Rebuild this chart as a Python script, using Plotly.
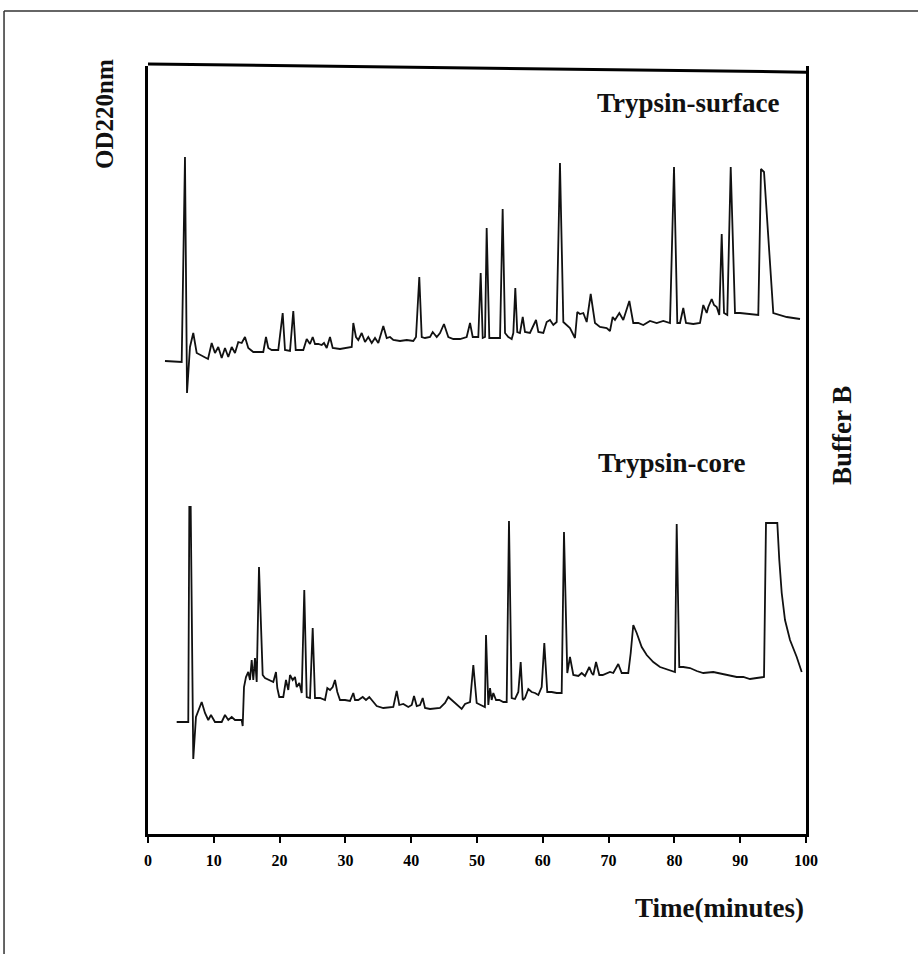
import plotly.graph_objects as go

# Retention time (minutes) and OD220nm (arbitrary units, traces offset on one scale)
surface_time = [
    2.58, 5.12, 5.62, 5.93, 6.38, 6.88, 7.40, 9.12, 9.68, 10.18,
    10.68, 11.2, 11.7, 12.2, 12.72, 13.22, 13.72, 14.24, 14.74, 15.24,
    16.0, 17.52, 17.93, 18.28, 18.8, 19.8, 20.47, 20.82, 21.58, 22.08,
    22.45, 23.6, 24.12, 24.62, 25.03, 25.38, 25.88, 26.4, 26.75, 27.16,
    27.66, 28.07, 29.18, 30.2, 30.96, 31.2, 31.61, 31.96, 32.48, 32.98,
    33.48, 34.0, 34.5, 35.0, 35.76, 36.28, 36.78, 37.28, 38.3, 39.32,
    40.32, 40.73, 41.23, 41.6, 42.1, 42.86, 43.27, 43.88, 44.38, 44.98,
    45.64, 46.4, 47.42, 48.43, 48.94, 49.35, 50.2, 50.56, 50.87, 51.22,
    51.47, 51.87, 52.48, 53.5, 53.9, 54.26, 54.76, 55.27, 55.52, 55.82,
    56.12, 56.53, 56.95, 57.29, 58.05, 58.97, 59.32, 60.08, 60.59, 61.09,
    61.6, 62.11, 62.61, 63.12, 64.13, 64.89, 65.24, 65.65, 66.16, 66.67,
    67.28, 67.93, 68.69, 69.71, 70.21, 70.62, 70.97, 71.63, 72.23, 73.15,
    73.75, 74.51, 75.27, 76.29, 77.31, 78.31, 79.33, 79.94, 80.44, 80.85,
    81.35, 81.76, 82.87, 83.89, 84.39, 84.91, 85.15, 85.67, 86.02, 86.43,
    86.82, 87.19, 87.54, 88.04, 88.56, 89.21, 89.97, 90.99, 91.99, 92.75,
    93.16, 93.62, 95.03, 96.05, 97.07, 98.07, 99.09,
]
surface_od = [
    473, 472, 677, 441, 487, 501, 481, 475, 491, 481,
    487, 476, 486, 477, 487, 481, 492, 491, 497, 486,
    482, 482, 497, 486, 484, 484, 521, 484, 483, 523,
    484, 484, 495, 490, 497, 490, 490, 489, 491, 486,
    497, 486, 485, 486, 487, 511, 497, 494, 501, 492,
    497, 491, 496, 491, 508, 496, 497, 494, 493, 494,
    493, 497, 557, 497, 496, 497, 502, 497, 501, 510,
    497, 495, 495, 497, 511, 497, 497, 561, 496, 497,
    606, 496, 496, 496, 625, 501, 497, 495, 501, 546,
    502, 501, 517, 502, 501, 514, 502, 501, 512, 514,
    509, 512, 671, 512, 506, 496, 522, 520, 521, 512,
    540, 511, 507, 506, 503, 517, 514, 521, 514, 533,
    511, 511, 509, 513, 511, 513, 511, 667, 511, 511,
    526, 511, 510, 511, 529, 521, 527, 535, 529, 527,
    519, 600, 521, 519, 667, 521, 521, 520, 519, 519,
    665, 662, 521, 519, 517, 516, 515,
]

core_time = [
    4.36, 6.12, 6.28, 6.49, 6.88, 7.29, 8.16, 8.66, 9.16, 9.57,
    10.18, 11.2, 11.7, 12.2, 12.72, 13.22, 14.24, 14.39, 14.59, 14.89,
    15.24, 15.5, 15.76, 16.0, 16.26, 16.52, 16.87, 17.43, 17.78, 18.54,
    19.04, 19.45, 19.65, 19.95, 20.56, 20.97, 21.32, 21.58, 21.99, 22.34,
    22.6, 23.0, 23.36, 23.75, 24.12, 24.62, 25.03, 25.38, 26.14, 26.9,
    27.25, 27.66, 28.07, 28.42, 28.77, 29.18, 29.94, 30.7, 31.2, 31.46,
    31.96, 32.63, 33.13, 33.63, 34.0, 34.76, 35.76, 37.28, 37.8, 38.19,
    38.8, 39.56, 40.08, 40.43, 40.84, 41.34, 41.75, 42.1, 42.86, 44.38,
    45.14, 45.64, 46.16, 46.91, 47.67, 48.18, 48.94, 49.44, 49.95, 50.56,
    51.2, 51.37, 51.72, 51.98, 52.23, 52.48, 52.89, 53.39, 54.0, 54.51,
    54.86, 55.27, 55.78, 56.28, 56.64, 56.95, 57.29, 57.8, 58.31, 58.81,
    59.32, 59.83, 60.23, 60.68, 61.35, 62.11, 62.87, 63.22, 63.72, 64.13,
    64.64, 65.4, 65.91, 66.41, 67.07, 67.43, 67.68, 68.09, 68.59, 69.1,
    70.21, 70.71, 71.47, 71.99, 72.99, 73.36, 73.75, 74.27, 75.03, 75.79,
    76.79, 77.81, 78.83, 79.83, 80.09, 80.35, 80.74, 81.35, 82.37, 83.39,
    84.39, 85.91, 87.43, 88.45, 89.47, 90.47, 91.49, 92.51, 93.27, 93.62,
    93.92, 95.64, 95.94, 96.31, 96.81, 97.57, 98.59, 99.35,
]
core_od = [
    112, 112, 327, 327, 75, 117, 132, 121, 114, 119,
    112, 112, 119, 114, 117, 114, 114, 108, 147, 157,
    162, 154, 174, 154, 176, 152, 267, 159, 156, 154,
    152, 162, 146, 137, 137, 154, 144, 159, 154, 157,
    147, 151, 141, 244, 137, 136, 206, 136, 136, 134,
    146, 144, 147, 154, 142, 134, 134, 133, 141, 134,
    134, 137, 134, 137, 134, 128, 126, 127, 143, 129,
    130, 127, 129, 138, 128, 129, 136, 126, 125, 126,
    131, 137, 134, 130, 125, 130, 132, 169, 131, 129,
    127, 199, 129, 146, 134, 141, 134, 134, 132, 132,
    313, 136, 135, 142, 172, 134, 136, 145, 142, 141,
    139, 147, 191, 142, 142, 141, 141, 302, 161, 177,
    159, 158, 161, 158, 167, 161, 159, 172, 159, 159,
    162, 161, 170, 161, 161, 181, 209, 201, 187, 179,
    172, 167, 165, 163, 162, 310, 167, 167, 166, 163,
    161, 162, 160, 159, 157, 157, 155, 156, 157, 157,
    311, 311, 274, 241, 214, 194, 177, 162,
]

x_ticks = [0, 10, 20, 30, 40, 50, 60, 70, 80, 90, 100]

SERIF = "Liberation Serif, Times New Roman, serif"
INK = "#111111"

fig = go.Figure()
fig.add_trace(go.Scatter(x=surface_time, y=surface_od, mode="lines",
                         line=dict(color=INK, width=1.8), name="Trypsin-surface",
                         showlegend=False))
fig.add_trace(go.Scatter(x=core_time, y=core_od, mode="lines",
                         line=dict(color=INK, width=1.8), name="Trypsin-core",
                         showlegend=False))


def label(text, x, y, size, angle=0):
    return dict(text="<b>" + text + "</b>", xref="paper", yref="paper",
                x=x, y=y, xanchor="center", yanchor="middle", showarrow=False,
                textangle=angle, font=dict(family=SERIF, size=size, color=INK))


fig.update_layout(
    width=918, height=954,
    margin=dict(l=148, r=112, t=66, b=120),
    paper_bgcolor="white", plot_bgcolor="white",
    xaxis=dict(range=[0, 100], tickvals=x_ticks,
               ticktext=["<b>" + str(v) + "</b>" for v in x_ticks],
               showgrid=False, zeroline=False, showline=True, mirror=False,
               linecolor="black", linewidth=3, ticks="outside", ticklen=6,
               tickwidth=2, tickcolor="black", ticklabelstandoff=4,
               tickfont=dict(family=SERIF, size=16, color="black")),
    yaxis=dict(range=[0, 768], showgrid=False, zeroline=False, showline=True,
               mirror=True, linecolor="black", linewidth=3, showticklabels=False,
               ticks=""),
    annotations=[
        label("Trypsin-surface", 0.8207, 0.952, 27),
        label("Trypsin-core", 0.796, 0.483, 27),
        label("OD220nm", -0.0669, 0.9375, 25, -90),
        label("Buffer B", 1.0547, 0.5195, 27, -90),
        label("Time(minutes)", 0.868, -0.0964, 27),
    ],
    shapes=[
        # slightly skewed top edge of the scanned frame
        dict(type="line", xref="paper", yref="paper", x0=0, x1=1,
             y0=1.0026, y1=0.992, line=dict(color="black", width=3)),
        # outer border of the scanned page
        dict(type="line", xref="paper", yref="paper", x0=-0.2188, x1=1.2,
             y0=1.0716, y1=1.0716, line=dict(color="#333333", width=1.5)),
        dict(type="line", xref="paper", yref="paper", x0=-0.2188, x1=-0.2188,
             y0=1.0716, y1=-0.2, line=dict(color="#333333", width=1.5)),
    ],
)

fig.write_html("out.html")
